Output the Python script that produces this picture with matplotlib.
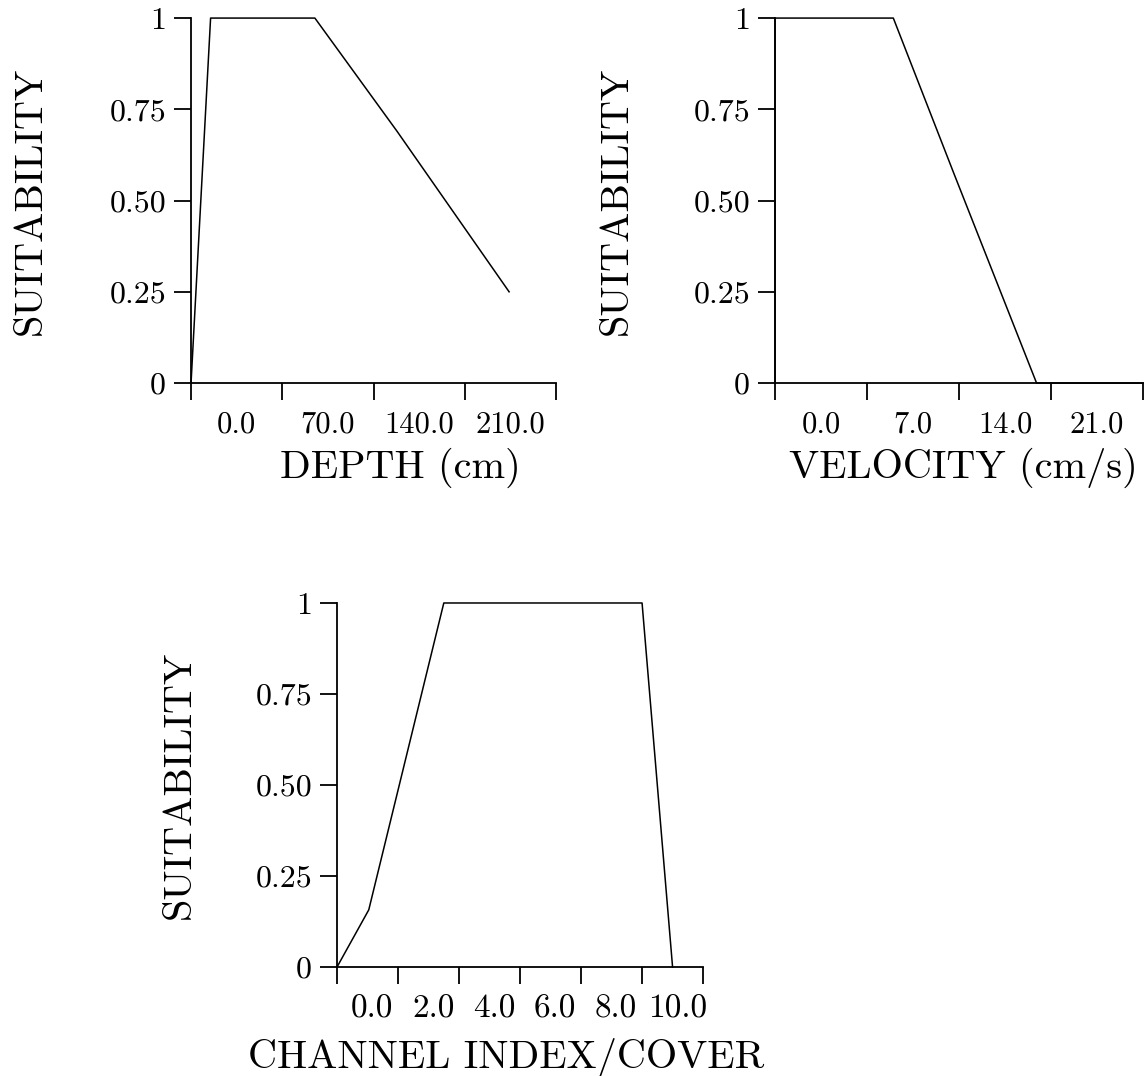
import matplotlib
matplotlib.use("Agg")
import matplotlib.pyplot as plt

# Suitability curves
depth_x = [-35, -20, 60, 123, 209]
depth_y = [0, 1, 1, 0.69, 0.25]
depth_ticks = [-35, 35, 105, 175, 245]
depth_labels_at = [0, 70, 140, 210]
depth_labels = ["0.0", "70.0", "140.0", "210.0"]

vel_x = [-3.5, -3.5, 5.5, 10.1, 16.4, 24.5]
vel_y = [0, 1, 1, 0.575, 0, 0]
vel_ticks = [-3.5, 3.5, 10.5, 17.5, 24.5]
vel_labels_at = [0, 7, 14, 21]
vel_labels = ["0.0", "7.0", "14.0", "21.0"]

cover_x = [-1, 0.04, 2.5, 9.0, 10.0]
cover_y = [0, 0.157, 1, 1, 0]
cover_ticks = [-1, 1, 3, 5, 7, 9, 11]
cover_labels_at = [0.15, 2.15, 4.15, 6.15, 8.15, 10.15]
cover_labels = ["0.0", "2.0", "4.0", "6.0", "8.0", "10.0"]

suit_ticks = [0, 0.25, 0.5, 0.75, 1]
suit_labels = ["0", "0.25", "0.50", "0.75", "1"]

plt.rcParams["font.family"] = ["cmr10", "DejaVu Serif"]
plt.rcParams["axes.unicode_minus"] = False

fig = plt.figure(figsize=(11.46, 10.76), dpi=100)


def panel(rect, x, y, ticks, lab_at, labs, xlabel, xlab_pos, ylab_x, tick_fs=22):
    ax = fig.add_axes(rect)
    ax.plot(x, y, color="black", lw=1.1, clip_on=False)
    ax.set_xlim(ticks[0], ticks[-1])
    ax.set_ylim(0, 1)
    for s in ["top", "right"]:
        ax.spines[s].set_visible(False)
    for s in ["left", "bottom"]:
        ax.spines[s].set_linewidth(1.3)
    # ticks sit between the labels, as in the original
    ax.set_xticks(ticks)
    ax.set_xticklabels([])
    ax.set_xticks(lab_at, minor=True)
    ax.set_xticklabels(labs, minor=True, fontsize=tick_fs)
    ax.tick_params(axis="x", which="major", direction="out", length=12, width=1.3)
    ax.tick_params(axis="x", which="minor", length=0, pad=20)
    ax.set_yticks(suit_ticks)
    ax.set_yticklabels(suit_labels, fontsize=23)
    ax.tick_params(axis="y", direction="out", length=12, width=1.3, pad=6)
    ax.set_xlabel(xlabel, fontsize=29, va="center")
    ax.xaxis.set_label_coords(xlab_pos[0], xlab_pos[1])
    ax.set_ylabel("SUITABILITY", fontsize=29, va="center")
    ax.yaxis.set_label_coords(ylab_x, 0.5)
    return ax


panel([0.1667, 0.644, 0.3185, 0.3392], depth_x, depth_y, depth_ticks,
      depth_labels_at, depth_labels, "DEPTH (cm)", (0.573, -0.233), -0.438)
panel([0.6763, 0.644, 0.3211, 0.3392], vel_x, vel_y, vel_ticks,
      vel_labels_at, vel_labels, "VELOCITY (cm/s)", (0.511, -0.233), -0.429)
panel([0.2941, 0.1013, 0.3194, 0.3383], cover_x, cover_y, cover_ticks,
      cover_labels_at, cover_labels, "CHANNEL INDEX/COVER", (0.462, -0.25), -0.429,
      tick_fs=24)

fig.savefig("out.png", dpi=100)
